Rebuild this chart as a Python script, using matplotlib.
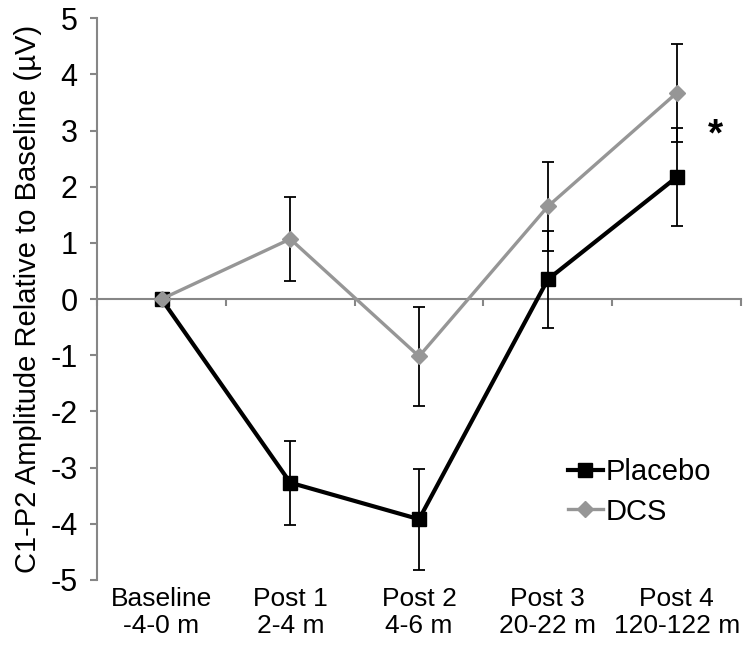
import matplotlib.pyplot as plt
from matplotlib.lines import Line2D
import numpy as np

plt.rcParams["font.family"] = ["Liberation Sans", "DejaVu Sans"]

# data
categories = ["Baseline\n-4-0 m", "Post 1\n2-4 m", "Post 2\n4-6 m",
              "Post 3\n20-22 m", "Post 4\n120-122 m"]
placebo = [0.0, -3.27, -3.92, 0.35, 2.17]
placebo_err = [0.0, 0.75, 0.90, 0.87, 0.87]
dcs = [0.0, 1.07, -1.02, 1.65, 3.67]
dcs_err = [0.0, 0.75, 0.88, 0.79, 0.88]
yticks = [-5, -4, -3, -2, -1, 0, 1, 2, 3, 4, 5]

AXIS_GREY = "#868686"
DCS_GREY = "#969696"

fig = plt.figure(figsize=(7.47, 6.53), dpi=100)
ax = fig.add_axes([0.13, 0.112, 0.862, 0.86])

x = np.arange(len(categories))

ax.errorbar(x, placebo, yerr=placebo_err, color="black", lw=3.0,
            marker="s", ms=10, mfc="black", mec="black",
            ecolor="black", elinewidth=1.3, capsize=4, capthick=1.3,
            zorder=3)
ax.errorbar(x, dcs, yerr=dcs_err, color=DCS_GREY, lw=2.4,
            marker="D", ms=8, mfc=DCS_GREY, mec=DCS_GREY,
            ecolor="black", elinewidth=1.3, capsize=4, capthick=1.3,
            zorder=4)

ax.text(4.3, 2.92, "*", fontsize=28, fontweight="bold",
        ha="center", va="center")

ax.set_xlim(-0.5, len(categories) - 0.5)
ax.set_ylim(-5, 5)
ax.set_yticks(yticks)
ax.set_yticklabels([str(v) for v in yticks])

# excel-style horizontal axis crossing at zero, labels at bottom
for side in ["top", "right"]:
    ax.spines[side].set_visible(False)
ax.spines["bottom"].set_position(("data", 0))
for side in ["left", "bottom"]:
    ax.spines[side].set_color(AXIS_GREY)
    ax.spines[side].set_linewidth(1.5)
ax.set_xticks(np.arange(-0.5, len(categories), 1.0))
ax.set_xticklabels([])
ax.tick_params(axis="x", direction="out", length=5, width=1.5, color=AXIS_GREY)
ax.tick_params(axis="y", direction="out", length=5, width=1.5, color=AXIS_GREY,
               labelsize=22, pad=9)

for i, lab in enumerate(categories):
    ax.text(i, -0.012, lab, transform=ax.get_xaxis_transform(),
            ha="center", va="top", fontsize=19, linespacing=1.2)

ax.set_ylabel("C1-P2 Amplitude Relative to Baseline (µV)", fontsize=21,
              labelpad=6)

handles = [
    Line2D([], [], color="black", lw=3.0, marker="s", ms=10),
    Line2D([], [], color=DCS_GREY, lw=2.4, marker="D", ms=8),
]
ax.legend(handles, ["Placebo", "DCS"], loc="upper left",
          bbox_to_anchor=(0.69, 0.264), frameon=False, fontsize=21,
          handlelength=1.2, handletextpad=0.1, labelspacing=0.4)

fig.savefig("out.png", dpi=100)
